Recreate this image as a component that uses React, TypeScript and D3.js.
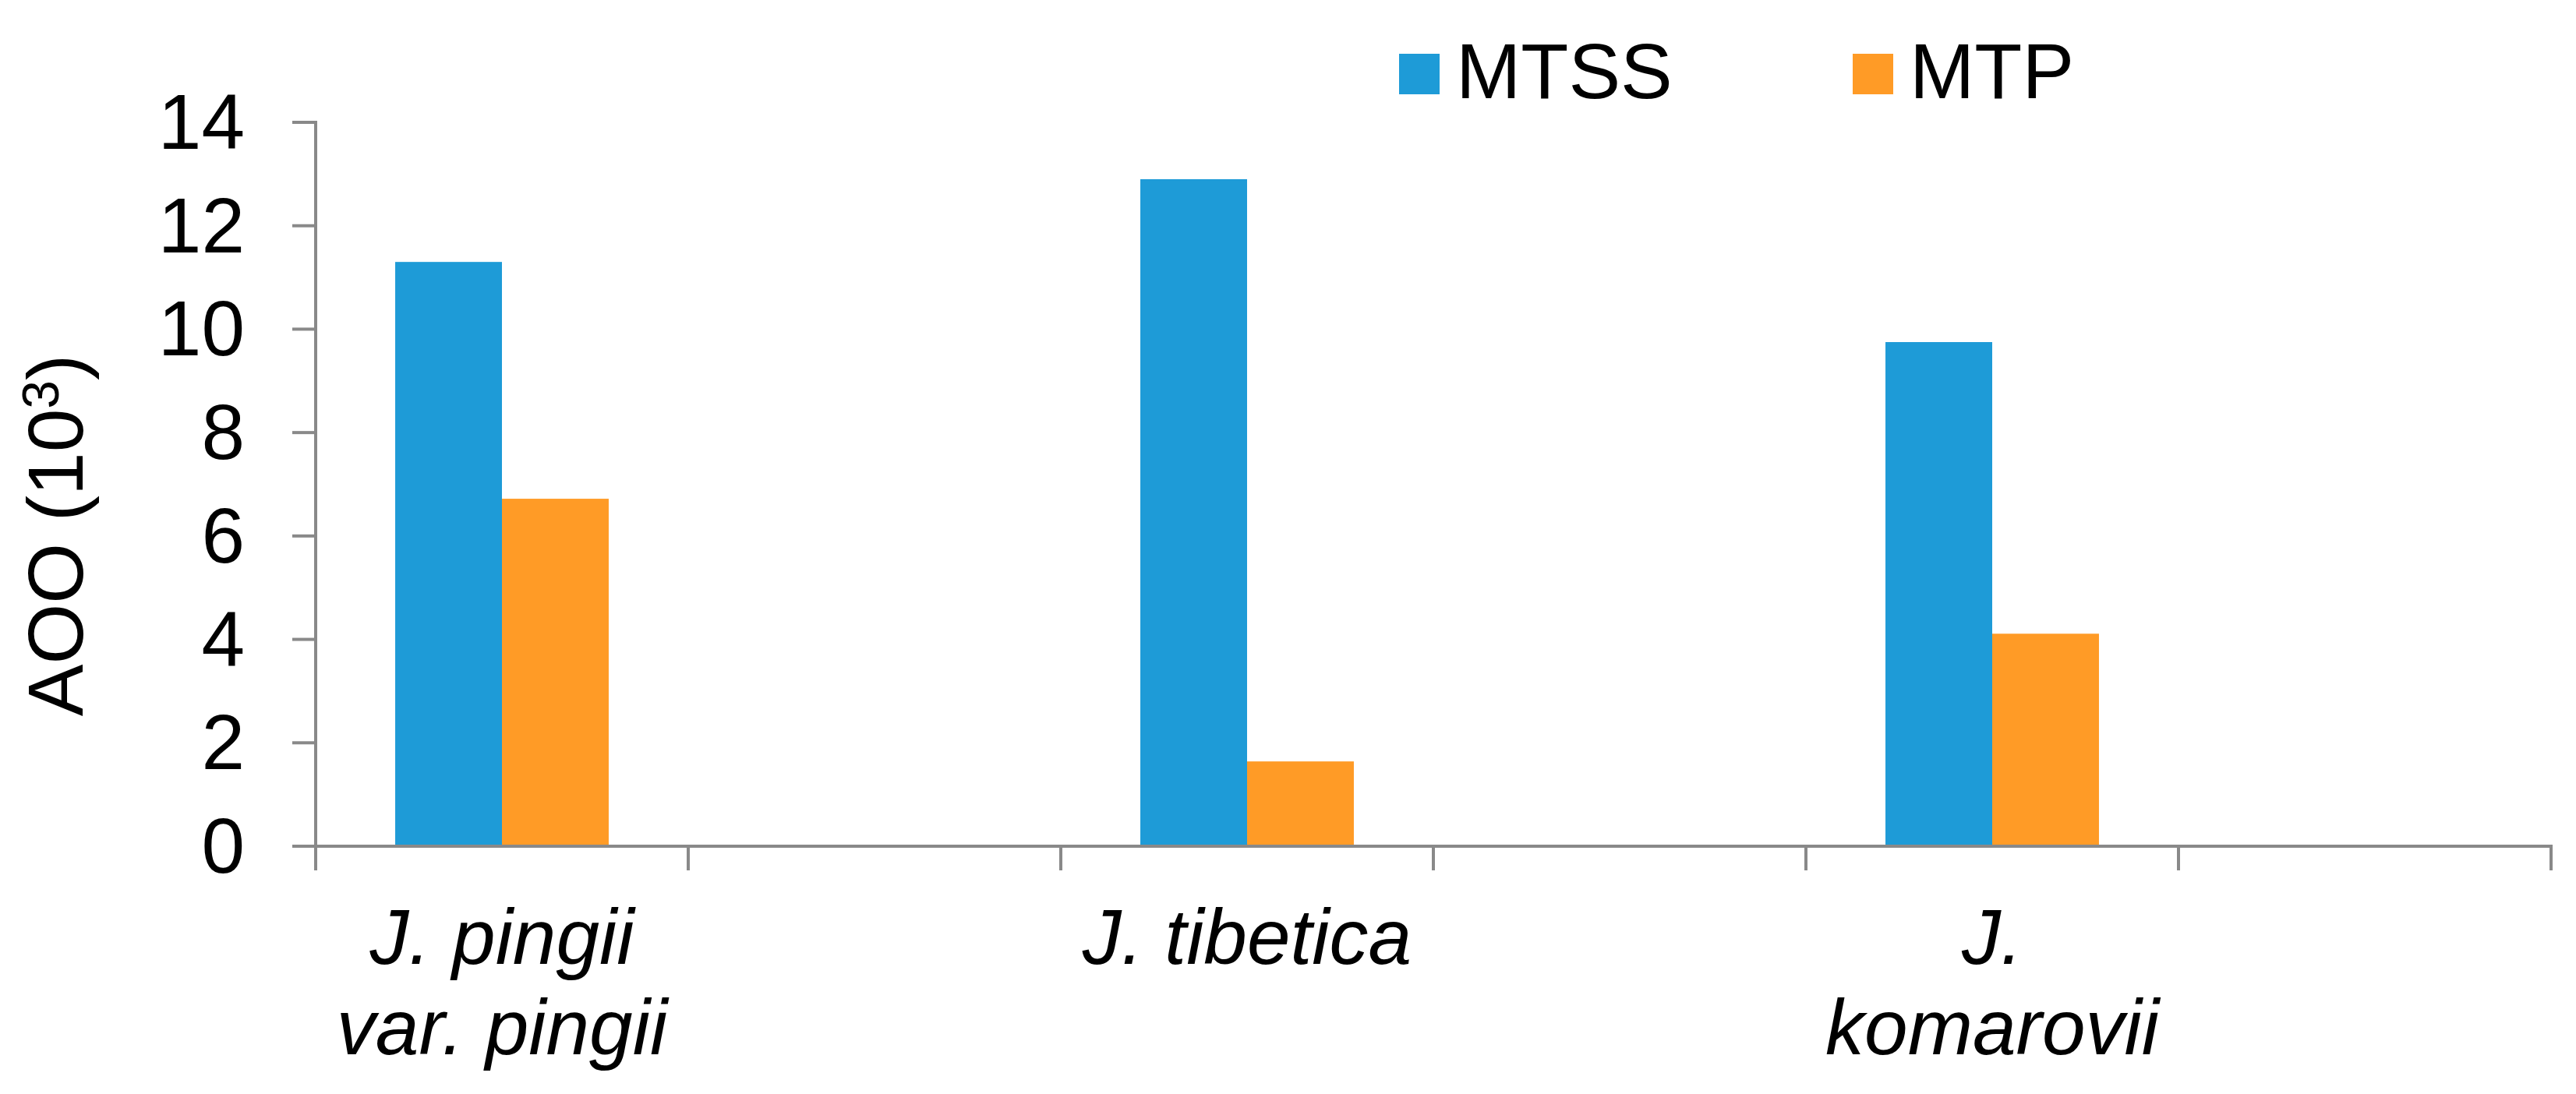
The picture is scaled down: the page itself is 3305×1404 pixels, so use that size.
import React from "react";
import * as d3 from "d3";

const categories = ["J. pingii var. pingii", "", "J. tibetica", "", "J. komarovii", ""];
const seriesNames = ["MTSS", "MTP"];
const mtssValues = [11.3, null, 12.9, null, 9.75, null];
const mtpValues = [6.72, null, 1.64, null, 4.11, null];
const yTicks = [0, 2, 4, 6, 8, 10, 12, 14];
const colors = ["#1E9BD7", "#FF9B26"];

const W = 3305;
const H = 1404;
const FONT = "'Liberation Sans', Arial, Helvetica, sans-serif";
const AXIS = "#898989";

function wrapLabel(text: string, maxWidth: number, font: string): string[] {
  if (!text) return [];
  const canvas = document.createElement("canvas");
  const ctx = canvas.getContext("2d");
  if (!ctx) return [text];
  ctx.font = font;
  const words = text.split(" ");
  const lines: string[] = [];
  let cur = "";
  for (const w of words) {
    const trial = cur ? cur + " " + w : w;
    if (ctx.measureText(trial).width > maxWidth && cur) {
      lines.push(cur);
      cur = w;
    } else {
      cur = trial;
    }
  }
  if (cur) lines.push(cur);
  return lines;
}

export default function App() {
  const left = 405;
  const right = 3273;
  const top = 157;
  const bottom = 1086;

  const x = d3
    .scaleBand<number>()
    .domain(categories.map((_, i) => i))
    .range([left, right])
    .paddingInner(0)
    .paddingOuter(0);

  const xs = d3
    .scaleBand<string>()
    .domain(seriesNames)
    .range([0, x.bandwidth()])
    .paddingInner(0)
    .paddingOuter(0.745);

  const y = d3.scaleLinear().domain([0, 14]).range([bottom, top]);

  const seriesData = [mtssValues, mtpValues];

  const boundaries = d3.range(categories.length + 1).map((i) =>
    i < categories.length ? (x(i) as number) : (x(categories.length - 1) as number) + x.bandwidth()
  );

  const labelFont = `italic 100px ${FONT}`;

  return (
    <svg
      width={W}
      height={H}
      viewBox={`0 0 ${W} ${H}`}
      style={{ position: "absolute", left: 0, top: 0, background: "#fff" }}
      fontFamily={FONT}
    >
      <rect x={0} y={0} width={W} height={H} fill="#fff" />

      {/* bars */}
      {seriesData.map((vals, si) =>
        vals.map((v, ci) =>
          v == null ? null : (
            <rect
              key={`b-${si}-${ci}`}
              x={(x(ci) as number) + (xs(seriesNames[si]) as number)}
              y={y(v)}
              width={xs.bandwidth()}
              height={y(0) - y(v)}
              fill={colors[si]}
            />
          )
        )
      )}

      {/* y axis */}
      <line x1={left} x2={left} y1={y(14) - 2} y2={bottom + 31} stroke={AXIS} strokeWidth={4} />
      {yTicks.map((t) => (
        <g key={`yt-${t}`}>
          <line x1={left - 30} x2={left} y1={y(t)} y2={y(t)} stroke={AXIS} strokeWidth={4} />
          <text x={314} y={y(t) + 34} textAnchor="end" fontSize={100} fill="#000">
            {t}
          </text>
        </g>
      ))}

      {/* x axis */}
      <line x1={left - 30} x2={right + 2} y1={bottom} y2={bottom} stroke={AXIS} strokeWidth={4} />
      {boundaries.map((bx, i) => (
        <line key={`xt-${i}`} x1={bx} x2={bx} y1={bottom} y2={bottom + 31} stroke={AXIS} strokeWidth={4} />
      ))}

      {/* category labels */}
      {categories.map((c, i) => {
        const lines = wrapLabel(c, x.bandwidth(), labelFont);
        const cx = (x(i) as number) + x.bandwidth() / 2;
        return (
          <text
            key={`cl-${i}`}
            x={cx}
            y={1237}
            textAnchor="middle"
            fontSize={100}
            fontStyle="italic"
            fill="#000"
          >
            {lines.map((ln, li) => (
              <tspan key={li} x={cx} dy={li === 0 ? 0 : 116}>
                {ln}
              </tspan>
            ))}
          </text>
        );
      })}

      {/* y title */}
      <text
        transform={`translate(106, 687) rotate(-90)`}
        textAnchor="middle"
        fontSize={100}
        fill="#000"
      >
        AOO (10
        <tspan fontSize={66} dy={-31}>
          3
        </tspan>
        <tspan dy={31}>)</tspan>
      </text>

      {/* legend */}
      {seriesNames.map((s, i) => {
        const lx = 1795 + i * 582;
        return (
          <g key={`lg-${s}`}>
            <rect x={lx} y={69} width={52} height={52} fill={colors[i]} />
            <text x={lx + 73} y={126} fontSize={100} fill="#000">
              {s}
            </text>
          </g>
        );
      })}
    </svg>
  );
}
